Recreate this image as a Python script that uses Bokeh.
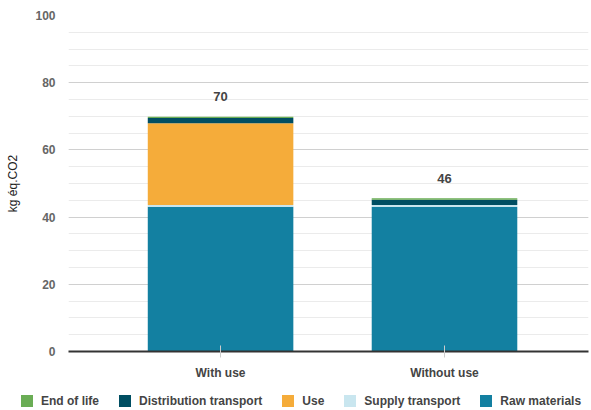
from bokeh.plotting import figure
from bokeh.layouts import column
from bokeh.models import (ColumnDataSource, Range1d, FixedTicker, SingleIntervalTicker,
                          Legend, LegendItem)
from bokeh.core.properties import value
from bokeh.embed import file_html
from bokeh.resources import INLINE

categories = ["With use", "Without use"]
raw_materials = [43.1, 43.1]
supply_transport = [0.5, 0.5]
use = [24.3, 0.0]
distribution_transport = [1.6, 1.6]
end_of_life = [0.4, 0.4]

series = ["Raw materials", "Supply transport", "Use", "Distribution transport", "End of life"]
colors = ["#1380A1", "#C9E6EF", "#F5AC3A", "#004E62", "#6AAD55"]
values = [raw_materials, supply_transport, use, distribution_transport, end_of_life]

xs = list(range(len(categories)))
data = {"x": xs}
for name, vals in zip(series, values):
    data[name] = vals
totals = [sum(v[i] for v in values) for i in xs]
data["total"] = totals
data["label"] = [str(round(t)) for t in totals]
source = ColumnDataSource(data)

FONT = "Liberation Sans"

p = figure(width=591, height=385, output_backend="svg", toolbar_location=None,
           x_range=Range1d(-0.679, 1.643), y_range=Range1d(0, 100),
           min_border_left=68, min_border_right=3, min_border_top=15, min_border_bottom=34)
p.outline_line_color = None
p.frame_align = False

p.vbar_stack(series, x="x", width=0.65, color=colors, line_color=None, source=source)

p.text(x="x", y="total", text="label", source=source, text_align="center",
       text_baseline="middle", y_offset=-20, text_font=value(FONT),
       text_font_style="bold", text_font_size="13px", text_color="#444444")

# y axis
p.yaxis.ticker = SingleIntervalTicker(interval=20, num_minor_ticks=4)
p.yaxis.axis_line_color = None
p.yaxis.major_tick_line_color = None
p.yaxis.minor_tick_line_color = None
p.yaxis.major_label_text_font = FONT
p.yaxis.major_label_text_font_style = "bold"
p.yaxis.major_label_text_font_size = "12px"
p.yaxis.major_label_text_color = "#666666"
p.yaxis.major_label_standoff = 7
p.yaxis.axis_label = "kg éq.CO2"
p.yaxis.axis_label_text_font = FONT
p.yaxis.axis_label_text_font_style = "normal"
p.yaxis.axis_label_text_font_size = "12px"
p.yaxis.axis_label_text_color = "#222222"
p.yaxis.axis_label_standoff = 12

p.ygrid.grid_line_color = "#d0d0d0"
p.ygrid.minor_grid_line_color = "#ebebeb"
p.xgrid.grid_line_color = None

# x axis
p.xaxis.ticker = FixedTicker(ticks=xs)
p.xaxis.major_label_overrides = {i: c for i, c in zip(xs, categories)}
p.xaxis.axis_line_color = "#333333"
p.xaxis.axis_line_width = 2
p.xaxis.major_tick_line_color = "#cccccc"
p.xaxis.major_tick_in = 6
p.xaxis.major_tick_out = 6
p.xaxis.minor_tick_line_color = None
p.xaxis.major_label_standoff = 8
p.xaxis.major_label_text_font = FONT
p.xaxis.major_label_text_font_style = "bold"
p.xaxis.major_label_text_font_size = "12px"
p.xaxis.major_label_text_color = "#444444"

# legend strip (its own bars lie far outside its view; only the legend shows)
pl = figure(width=591, height=25, output_backend="svg", toolbar_location=None,
            x_range=Range1d(1000, 1001), y_range=Range1d(1000, 1001),
            x_axis_type=None, y_axis_type=None, min_border=0)
pl.outline_line_color = None
pl.frame_align = False
pl.xgrid.visible = False
pl.ygrid.visible = False
leg_renderers = pl.vbar_stack(series, x="x", width=0.65, color=colors, line_color=None, source=source)

items = [LegendItem(label=name, renderers=[r]) for name, r in zip(series, leg_renderers)]
items.reverse()
legend = Legend(items=items, orientation="horizontal", location=(19, 2),
                glyph_width=15, glyph_height=15, label_standoff=7, spacing=18,
                padding=0, margin=0, border_line_color=None, background_fill_alpha=0,
                label_text_font=FONT, label_text_font_style="bold",
                label_text_font_size="12px", label_text_color="#444444")
pl.add_layout(legend, "center")

layout = column(p, pl, spacing=0)
open("out.html", "w").write(file_html(layout, INLINE))
